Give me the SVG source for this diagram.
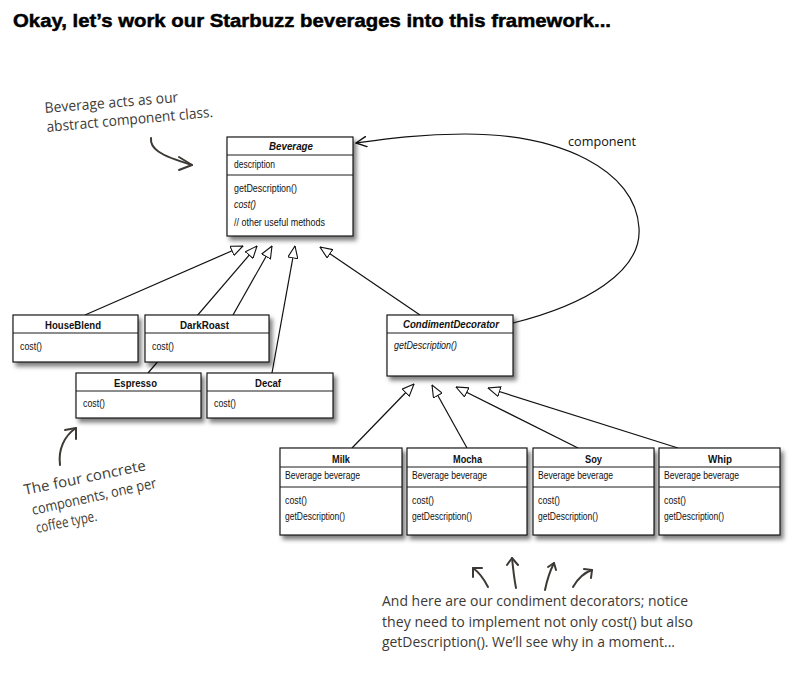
<svg xmlns="http://www.w3.org/2000/svg" width="812" height="681" viewBox="0 0 812 681">
<style>
.box{fill:#fff;stroke:#1a1a1a;stroke-width:1.2}
.div{stroke:#1a1a1a;stroke-width:1}
.t{font-family:"Liberation Sans",Arial,sans-serif;font-size:10.5px;fill:#111}
.b{font-weight:bold;font-size:11px}
.i{font-style:italic}
.gen{fill:none;stroke:#111;stroke-width:1.2}
.hand{font-family:"Open Sans","DejaVu Sans",sans-serif;font-size:14.5px;fill:#3d3a36}
.ha{fill:none;stroke:#3d3a36;stroke-width:2;stroke-linecap:round;stroke-linejoin:round}
</style>
<defs>
<filter id="sh" x="-10%" y="-10%" width="130%" height="140%">
<feDropShadow dx="3" dy="4" stdDeviation="2" flood-color="#000" flood-opacity="0.5"/>
</filter>
<marker id="tri" viewBox="0 0 13 11" refX="12.5" refY="5.5" markerWidth="13" markerHeight="11" markerUnits="userSpaceOnUse" orient="auto">
<path d="M0.5,0.5 L12.5,5.5 L0.5,10.5 Z" fill="#fff" stroke="#111" stroke-width="1.1"/>
</marker>
<marker id="vee" viewBox="0 0 12 12" refX="11" refY="6" markerWidth="12" markerHeight="12" markerUnits="userSpaceOnUse" orient="auto">
<path d="M0,0.5 L11,6 L0,11.5" fill="none" stroke="#111" stroke-width="1.4"/>
</marker>
</defs>
<rect width="812" height="681" fill="#fff"/>

<text x="13" y="27" font-family="Liberation Sans,Arial,sans-serif" font-weight="bold" font-size="19" fill="#000" stroke="#000" stroke-width="0.5" textLength="598" lengthAdjust="spacingAndGlyphs">Okay, let’s work our Starbuzz beverages into this framework...</text>

<g id="connectors">
<line class="gen" x1="85" y1="315" x2="243" y2="246" marker-end="url(#tri)"/>
<line class="gen" x1="148" y1="373" x2="257" y2="246" marker-end="url(#tri)"/>
<line class="gen" x1="233" y1="315" x2="272" y2="246" marker-end="url(#tri)"/>
<line class="gen" x1="272" y1="373" x2="295" y2="246" marker-end="url(#tri)"/>
<line class="gen" x1="420" y1="315" x2="320" y2="247" marker-end="url(#tri)"/>
<line class="gen" x1="352" y1="448" x2="414" y2="384" marker-end="url(#tri)"/>
<line class="gen" x1="467" y1="448" x2="432" y2="385" marker-end="url(#tri)"/>
<line class="gen" x1="578" y1="448" x2="456" y2="387" marker-end="url(#tri)"/>
<line class="gen" x1="678" y1="448" x2="488" y2="388" marker-end="url(#tri)"/>
<path class="gen" d="M513,323 C585,305 642,272 639,228 C636,170 560,134 465,134 C420,134 385,139 356,143" marker-end="url(#vee)"/>
<text x="568" y="146" font-family="Open Sans,DejaVu Sans,sans-serif" font-size="13" fill="#111" textLength="68" lengthAdjust="spacingAndGlyphs">component</text>
</g>

<g id="Beverage">
<rect class="box" x="227" y="137" width="126" height="99" filter="url(#sh)"/>
<line class="div" x1="227" y1="155" x2="353" y2="155"/>
<line class="div" x1="227" y1="175" x2="353" y2="175"/>
<text class="t b i" x="269" y="150" textLength="44" lengthAdjust="spacingAndGlyphs">Beverage</text>
<text class="t" x="234" y="168" textLength="41" lengthAdjust="spacingAndGlyphs">description</text>
<text class="t" x="234" y="192" textLength="63" lengthAdjust="spacingAndGlyphs">getDescription()</text>
<text class="t i" x="234" y="208" textLength="22" lengthAdjust="spacingAndGlyphs">cost()</text>
<text class="t" x="234" y="226" textLength="91" lengthAdjust="spacingAndGlyphs">// other useful methods</text>
</g>

<g id="HouseBlend">
<rect class="box" x="13" y="315" width="125" height="47" filter="url(#sh)"/>
<line class="div" x1="13" y1="333" x2="138" y2="333"/>
<text class="t b" x="45" y="329" textLength="56" lengthAdjust="spacingAndGlyphs">HouseBlend</text>
<text class="t" x="20" y="350" textLength="22" lengthAdjust="spacingAndGlyphs">cost()</text>
</g>

<g id="DarkRoast">
<rect class="box" x="145" y="315" width="124" height="47" filter="url(#sh)"/>
<line class="div" x1="145" y1="333" x2="269" y2="333"/>
<text class="t b" x="180" y="329" textLength="49" lengthAdjust="spacingAndGlyphs">DarkRoast</text>
<text class="t" x="152" y="350" textLength="22" lengthAdjust="spacingAndGlyphs">cost()</text>
</g>

<g id="Espresso">
<rect class="box" x="76" y="373" width="125" height="45" filter="url(#sh)"/>
<line class="div" x1="76" y1="391" x2="201" y2="391"/>
<text class="t b" x="114" y="387" textLength="43" lengthAdjust="spacingAndGlyphs">Espresso</text>
<text class="t" x="83" y="407" textLength="22" lengthAdjust="spacingAndGlyphs">cost()</text>
</g>

<g id="Decaf">
<rect class="box" x="207" y="373" width="126" height="45" filter="url(#sh)"/>
<line class="div" x1="207" y1="391" x2="333" y2="391"/>
<text class="t b" x="255" y="387" textLength="26" lengthAdjust="spacingAndGlyphs">Decaf</text>
<text class="t" x="214" y="407" textLength="22" lengthAdjust="spacingAndGlyphs">cost()</text>
</g>

<g id="CondimentDecorator">
<rect class="box" x="387" y="315" width="126" height="61" filter="url(#sh)"/>
<line class="div" x1="387" y1="333" x2="513" y2="333"/>
<text class="t b i" x="403" y="328" textLength="96" lengthAdjust="spacingAndGlyphs">CondimentDecorator</text>
<text class="t i" x="394" y="349" textLength="63" lengthAdjust="spacingAndGlyphs">getDescription()</text>
</g>

<g id="Milk">
<rect class="box" x="280" y="448" width="122" height="87" filter="url(#sh)"/>
<line class="div" x1="280" y1="467" x2="402" y2="467"/>
<line class="div" x1="280" y1="487" x2="402" y2="487"/>
<text class="t b" x="332" y="463" textLength="18" lengthAdjust="spacingAndGlyphs">Milk</text>
<text class="t" x="285" y="479" textLength="75" lengthAdjust="spacingAndGlyphs">Beverage beverage</text>
<text class="t" x="285" y="504" textLength="22" lengthAdjust="spacingAndGlyphs">cost()</text>
<text class="t" x="285" y="520" textLength="60" lengthAdjust="spacingAndGlyphs">getDescription()</text>
</g>

<g id="Mocha">
<rect class="box" x="407" y="448" width="120" height="87" filter="url(#sh)"/>
<line class="div" x1="407" y1="467" x2="527" y2="467"/>
<line class="div" x1="407" y1="487" x2="527" y2="487"/>
<text class="t b" x="453" y="463" textLength="29" lengthAdjust="spacingAndGlyphs">Mocha</text>
<text class="t" x="412" y="479" textLength="75" lengthAdjust="spacingAndGlyphs">Beverage beverage</text>
<text class="t" x="412" y="504" textLength="22" lengthAdjust="spacingAndGlyphs">cost()</text>
<text class="t" x="412" y="520" textLength="60" lengthAdjust="spacingAndGlyphs">getDescription()</text>
</g>

<g id="Soy">
<rect class="box" x="533" y="448" width="121" height="87" filter="url(#sh)"/>
<line class="div" x1="533" y1="467" x2="654" y2="467"/>
<line class="div" x1="533" y1="487" x2="654" y2="487"/>
<text class="t b" x="585" y="463" textLength="17" lengthAdjust="spacingAndGlyphs">Soy</text>
<text class="t" x="538" y="479" textLength="75" lengthAdjust="spacingAndGlyphs">Beverage beverage</text>
<text class="t" x="538" y="504" textLength="22" lengthAdjust="spacingAndGlyphs">cost()</text>
<text class="t" x="538" y="520" textLength="60" lengthAdjust="spacingAndGlyphs">getDescription()</text>
</g>

<g id="Whip">
<rect class="box" x="659" y="448" width="121" height="87" filter="url(#sh)"/>
<line class="div" x1="659" y1="467" x2="780" y2="467"/>
<line class="div" x1="659" y1="487" x2="780" y2="487"/>
<text class="t b" x="708" y="463" textLength="24" lengthAdjust="spacingAndGlyphs">Whip</text>
<text class="t" x="664" y="479" textLength="75" lengthAdjust="spacingAndGlyphs">Beverage beverage</text>
<text class="t" x="664" y="504" textLength="22" lengthAdjust="spacingAndGlyphs">cost()</text>
<text class="t" x="664" y="520" textLength="60" lengthAdjust="spacingAndGlyphs">getDescription()</text>
</g>

<g id="note-beverage">
<text class="hand" transform="translate(45,113) rotate(-4.7)" textLength="134" lengthAdjust="spacingAndGlyphs">Beverage acts as our</text>
<text class="hand" transform="translate(47,132) rotate(-5.2)" textLength="167" lengthAdjust="spacingAndGlyphs">abstract component class.</text>
<path class="ha" d="M151,138 C150,148 158,155 192,165"/>
<path class="ha" d="M179,157 L192,165 L179,170"/>
</g>

<g id="note-concrete">
<text class="hand" transform="translate(25,495) rotate(-11.6)" textLength="124" lengthAdjust="spacingAndGlyphs">The four concrete</text>
<text class="hand" transform="translate(33,515) rotate(-12.5)" textLength="127" lengthAdjust="spacingAndGlyphs">components, one per</text>
<text class="hand" transform="translate(37,533) rotate(-11.5)" textLength="62" lengthAdjust="spacingAndGlyphs">coffee type.</text>
<path class="ha" d="M60,465 C58,450 64,436 76,428"/>
<path class="ha" d="M65,430 L76,428 L76,439"/>
</g>

<g id="note-decorators">
<path class="ha" d="M488,587 C484,579 480,573 473,568"/>
<path class="ha" d="M473,577 L473,568 L482,568"/>
<path class="ha" d="M516,588 C514,578 513,568 512,558"/>
<path class="ha" d="M507,565 L512,558 L518,565"/>
<path class="ha" d="M545,590 C547,580 550,571 554,563"/>
<path class="ha" d="M548,567 L554,563 L556,570"/>
<path class="ha" d="M573,587 C577,580 583,573 592,570"/>
<path class="ha" d="M584,569 L592,570 L591,578"/>
<text class="hand" x="382" y="606" textLength="306" lengthAdjust="spacingAndGlyphs">And here are our condiment decorators; notice</text>
<text class="hand" x="382" y="627" textLength="311" lengthAdjust="spacingAndGlyphs">they need to implement not only cost() but also</text>
<text class="hand" x="382" y="647" textLength="293" lengthAdjust="spacingAndGlyphs">getDescription(). We’ll see why in a moment...</text>
</g>
</svg>
